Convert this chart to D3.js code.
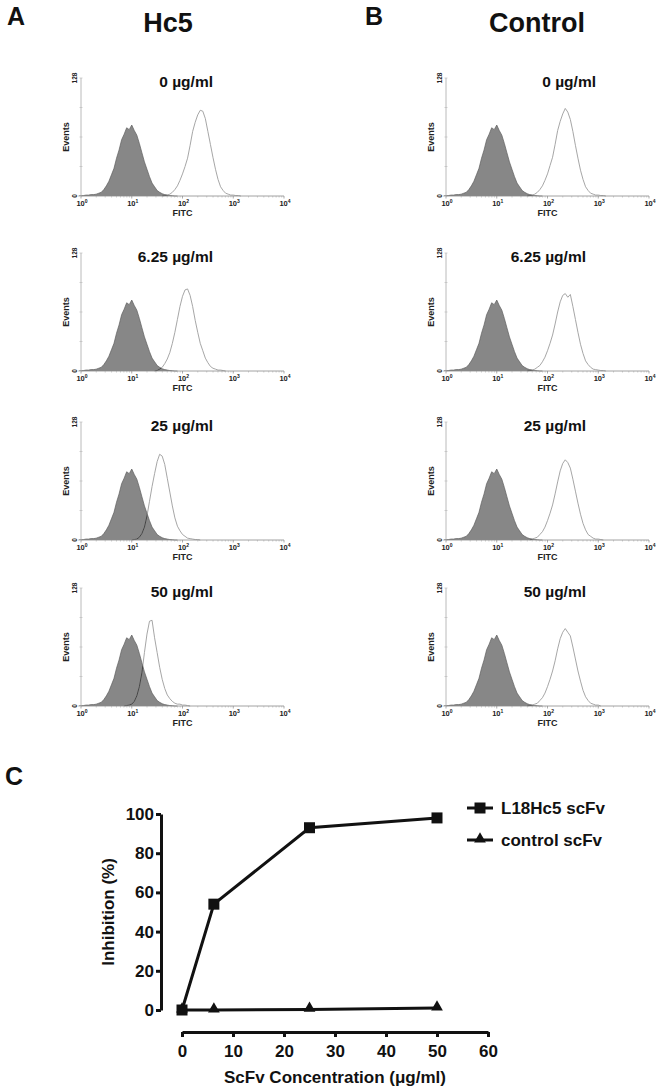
<!DOCTYPE html>
<html><head><meta charset="utf-8">
<script src="https://cdn.jsdelivr.net/npm/d3@7"></script>
<style>
body{margin:0;background:#fff}
svg{display:block}
text{font-family:"Liberation Sans",Arial,sans-serif;font-weight:bold;fill:#111}
</style></head>
<body><svg id="chart" width="664" height="1092"></svg>
<script>
// ---------------- DATA ----------------
const columnTitles = ["Hc5", "Control"];
const columnLetters = ["A", "B"];
const concLabels = ["0 µg/ml", "6.25 µg/ml", "25 µg/ml", "50 µg/ml"];
const histYTicks = [0, 32, 64, 96, 128];
const histYLabels = ["0", "128"];
const histDecades = [0, 1, 2, 3, 4];
const channelStep = 0.05; // log10 units per channel

// isotype (grey filled) histogram, starting at log10 = 0
const isotypeStart = 0;
const isotypeCounts = [0.5,0.5,1,1,1.5,1.5,2,3,4,7,11,16,23,30,41,50,61,67,74,72,77,71,66,57,47,37,29,21,14,10,6,4,2.5,1.5,1,0.5,0.3,0];

// Hc5 open histograms
const hc5Starts = [1.65, 1.5, 1.05, 0.9];
const hc5Open0  = [0.5,1,2,4,7,11,17,24,32,41,55,70,80,88,93,92,84,70,56,42,29,18,10,6,3,2,1,1,0.5,0.5];
const hc5Open6  = [0.5,2,4,8,13,20,30,42,56,70,81,88,89,82,70,55,42,30,22,14,9,5,3,2,1,1,0.5];
const hc5Open25 = [0.5,1,3,7,14,26,42,58,72,85,93,91,82,67,52,37,24,15,10,6,4,2,1.5,1,0.5,0.5];
const hc5Open50 = [0.5,1,2,5,11,21,36,58,78,92,93,74,58,42,29,19,12,8,5,3,2,2,1,1,0.5];

// Control open histograms
const ctrlStarts = [1.65, 1.65, 1.7, 1.65];
const ctrlOpen0  = [0.5,1,2,4,7,11,17,24,33,42,56,71,81,89,95,91,83,70,55,41,28,18,10,6,3,2,1,1,0.5,0.5];
const ctrlOpen6  = [0.5,1,2,4,6,10,15,22,30,39,51,64,75,82,84,80,83,70,56,42,29,19,11,7,4,2,1.5,1,0.5,0.5];
const ctrlOpen25 = [1,2,3,6,9,14,21,29,38,50,63,75,83,87,84,78,66,53,40,28,18,11,6,4,2,1,1,0.5];
const ctrlOpen50 = [0.5,1,2,3,6,9,14,21,29,38,49,62,73,80,84,80,76,64,51,38,27,17,10,6,3,2,1,1];

// Panel C
const scfvConc = [0, 6.25, 25, 50];
const l18hc5Inhibition = [0, 54, 93, 98];
const controlInhibition = [0, 0, 0.3, 1];
const seriesNames = ["L18Hc5 scFv", "control scFv"];
const cXTicks = [0, 10, 20, 30, 40, 50, 60];
const cYTicks = [0, 20, 40, 60, 80, 100];

// ---------------- LAYOUT ----------------
const svg = d3.select("#chart");
const colX = [81, 446];
const plotW = 203, plotH = 118;
const rowTops = [78, 253, 422, 588];
const titleRight = [[213, 213, 213, 213], [596, 586, 586, 586]];
const openSets = [[hc5Open0, hc5Open6, hc5Open25, hc5Open50], [ctrlOpen0, ctrlOpen6, ctrlOpen25, ctrlOpen50]];
const openStarts = [hc5Starts, ctrlStarts];

function toPoints(start, counts) {
  const pts = counts.map((c, i) => [start + i * channelStep, c]);
  return [[start - channelStep, 0], ...pts, [start + counts.length * channelStep, 0]];
}

// column headers
[0, 1].forEach(c => {
  svg.append("text").attr("x", c === 0 ? 7 : 365).attr("y", 25)
    .style("font-size", "25px").text(columnLetters[c]);
  svg.append("text").attr("x", c === 0 ? 168 : 537).attr("y", 31.5)
    .attr("text-anchor", "middle").style("font-size", "27px").text(columnTitles[c]);
});

let clipId = 0;
[0, 1].forEach(c => {
  rowTops.forEach((top, r) => {
    const x = d3.scaleLinear().domain([0, 4]).range([colX[c], colX[c] + plotW]);
    const y = d3.scaleLinear().domain([0, 128]).range([top + plotH, top]);
    const g = svg.append("g");
    const base = top + plotH;

    // isotype filled histogram
    const isoPts = toPoints(isotypeStart, isotypeCounts);
    const area = d3.area().x(d => x(d[0])).y0(base).y1(d => y(d[1]));
    const line = d3.line().x(d => x(d[0])).y(d => y(d[1]));
    g.append("path").attr("d", area(isoPts)).attr("fill", "#878787");
    g.append("path").attr("d", line(isoPts)).attr("fill", "none")
      .attr("stroke", "#5e5e5e").attr("stroke-width", 0.7);

    const id = "iso" + (clipId++);
    g.append("clipPath").attr("id", id).append("path").attr("d", area(isoPts));

    // open histogram
    const openPts = toPoints(openStarts[c][r], openSets[c][r]);
    g.append("path").attr("d", line(openPts)).attr("fill", "none")
      .attr("stroke", "#9c9c9c").attr("stroke-width", 0.9);
    g.append("path").attr("d", line(openPts)).attr("fill", "none")
      .attr("clip-path", `url(#${id})`)
      .attr("stroke", "#3a3a3a").attr("stroke-width", 0.9);

    // axes
    g.append("line").attr("x1", x(0)).attr("x2", x(0)).attr("y1", y(128)).attr("y2", base)
      .attr("stroke", "#a8a8a8").attr("stroke-width", 0.8);
    g.append("line").attr("x1", x(0)).attr("x2", x(4)).attr("y1", base).attr("y2", base)
      .attr("stroke", "#8a8a8a").attr("stroke-width", 0.8);
    histYTicks.forEach(t => {
      g.append("line").attr("x1", x(0) - 1.5).attr("x2", x(0) + 1.5).attr("y1", y(t)).attr("y2", y(t))
        .attr("stroke", "#b5b5b5").attr("stroke-width", 0.6);
    });
    histDecades.forEach(d => {
      g.append("line").attr("x1", x(d)).attr("x2", x(d)).attr("y1", base).attr("y2", base + 2.5)
        .attr("stroke", "#888").attr("stroke-width", 0.7);
      if (d < 4) d3.range(2, 10).forEach(m => {
        const lx = x(d + Math.log10(m));
        g.append("line").attr("x1", lx).attr("x2", lx).attr("y1", base).attr("y2", base + 1.5)
          .attr("stroke", "#aaa").attr("stroke-width", 0.6);
      });
      const t = g.append("text").attr("x", x(d) + 1).attr("y", base + 9.5)
        .attr("text-anchor", "middle").style("font-size", "7.5px").style("fill", "#222");
      t.append("tspan").text("10");
      t.append("tspan").attr("dy", -2.8).style("font-size", "5px").text(d);
    });
    // y labels rotated
    [[0, histYLabels[0]], [128, histYLabels[1]]].forEach(([v, lab]) => {
      g.append("text").attr("transform", `translate(${x(0) - 4},${y(v)}) rotate(-90)`)
        .attr("text-anchor", "middle").style("font-size", "6.5px").style("fill", "#222").text(lab);
    });
    g.append("text").attr("transform", `translate(${x(0) - 11.7},${top + plotH / 2}) rotate(-90)`)
      .attr("text-anchor", "middle").style("font-size", "9px").style("fill", "#222").text("Events");
    g.append("text").attr("x", x(2)).attr("y", base + 20).attr("text-anchor", "middle")
      .style("font-size", "9px").style("fill", "#222").text("FITC");

    // concentration title
    g.append("text").attr("x", titleRight[c][r]).attr("y", top + 9).attr("text-anchor", "end")
      .style("font-size", "15.5px").text(concLabels[r]);
  });
});

// ---------------- PANEL C ----------------
svg.append("text").attr("x", 5).attr("y", 785).style("font-size", "25px").text("C");

const xC = d3.scaleLinear().domain([0, 60]).range([182, 488]);
const yC = d3.scaleLinear().domain([0, 100]).range([1010, 814]);

const gx = svg.append("g").attr("transform", "translate(0,1032)")
  .call(d3.axisBottom(xC).tickValues(cXTicks).tickSize(5).tickSizeOuter(0).tickPadding(4));
const gy = svg.append("g").attr("transform", "translate(161,0)")
  .call(d3.axisLeft(yC).tickValues(cYTicks).tickSize(5).tickSizeOuter(0).tickPadding(2));
[gx, gy].forEach(a => {
  a.select(".domain").attr("stroke", "#111").attr("stroke-width", 3);
  a.selectAll(".tick line").attr("stroke", "#111").attr("stroke-width", 3);
  a.selectAll(".tick text").style("font-size", "17px").style("font-family", '"Liberation Sans",Arial,sans-serif')
    .style("font-weight", "bold").attr("fill", "#111");
});
gx.selectAll(".tick text").attr("dy", "0.95em");

svg.append("text").attr("x", 335).attr("y", 1083).attr("text-anchor", "middle")
  .style("font-size", "17px").text("ScFv Concentration (μg/ml)");
svg.append("text").attr("transform", "translate(114,912) rotate(-90)").attr("text-anchor", "middle")
  .style("font-size", "17px").text("Inhibition (%)");

const lineC = d3.line().x(d => xC(d[0])).y(d => yC(d[1]));
const ctrlPts = scfvConc.map((c, i) => [c, controlInhibition[i]]);
const l18Pts = scfvConc.map((c, i) => [c, l18hc5Inhibition[i]]);
const tri = d3.symbol().type(d3.symbolTriangle).size(60);
const sq = d3.symbol().type(d3.symbolSquare).size(121);

svg.append("path").attr("d", lineC(ctrlPts)).attr("fill", "none").attr("stroke", "#111").attr("stroke-width", 3);
ctrlPts.forEach(p => svg.append("path").attr("d", tri()).attr("fill", "#111")
  .attr("transform", `translate(${xC(p[0])},${yC(p[1]) - 1})`));
svg.append("path").attr("d", lineC(l18Pts)).attr("fill", "none").attr("stroke", "#111").attr("stroke-width", 3);
l18Pts.forEach(p => svg.append("path").attr("d", sq()).attr("fill", "#111")
  .attr("transform", `translate(${xC(p[0])},${yC(p[1])})`));

// legend
const legendY = [808, 840];
const legendSym = [sq, tri];
seriesNames.forEach((name, i) => {
  svg.append("line").attr("x1", 467).attr("x2", 493).attr("y1", legendY[i]).attr("y2", legendY[i])
    .attr("stroke", "#111").attr("stroke-width", 3);
  svg.append("path").attr("d", legendSym[i]()).attr("fill", "#111")
    .attr("transform", `translate(480,${legendY[i] - (i === 1 ? 1 : 0)})`);
  svg.append("text").attr("x", 501).attr("y", legendY[i] + 6).style("font-size", "17px").text(name);
});
</script></body></html>
